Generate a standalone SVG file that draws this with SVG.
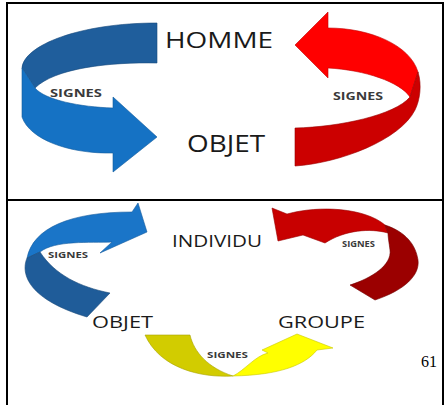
<svg xmlns="http://www.w3.org/2000/svg" width="447" height="405" viewBox="0 0 447 405">
<style>
.lbl{font-family:"Open Sans","Liberation Sans",sans-serif;fill:#1a1a1a;}
.sg{font-family:"Open Sans","Liberation Sans",sans-serif;font-weight:bold;fill:#3a3a3a;}
.frame{fill:none;stroke:#000;stroke-width:2;}
.edge{stroke-width:0.6;stroke-linejoin:round;}
</style>
<rect width="447" height="405" fill="#fff"/>
<path class="frame" d="M7,406 V3 H443 V406 M7,200 H443"/>
<g id="connectors">
  <g id="arrow-top-left">
    <path class="edge" fill="#1f5e9c" stroke="#174a7c" d="M157,23 L157,63 C110,62 55,68 35,88 L22,68 C24,45 80,23 157,23 Z"/>
    <path class="edge" fill="#1572c4" stroke="#115a9c" d="M22,68 L35,88 C45,100 80,107 113,108 L113,97 L157,137 L113,172 L113,153 C70,154 30,140 22,117 Z"/>
    <text class="sg" x="50" y="97" font-size="10.5" textLength="52" lengthAdjust="spacingAndGlyphs">SIGNES</text>
  </g>
  <g id="arrow-top-right">
    <path class="edge" fill="#ff0000" stroke="#c00000" d="M295,45 L328,12 L328,28 C370,28 410,45 418,72 L410,97 C400,82 365,70 328,68 L328,78 Z"/>
    <path class="edge" fill="#cc0000" stroke="#990000" d="M418,72 C422,85 420,100 415,110 C400,140 340,163 295,166 L295,128 C340,127 395,115 410,97 Z"/>
    <text class="sg" x="333" y="100" font-size="10.5" textLength="50" lengthAdjust="spacingAndGlyphs">SIGNES</text>
  </g>
  <g id="arrow-bottom-left">
    <path class="edge" fill="#1a75c8" stroke="#155d9e" d="M27,258 C33,228 70,212 132,212 L138,203 L147,232 L100,253 L112,242 C90,243 55,240 40,252 Z"/>
    <path class="edge" fill="#1f5c99" stroke="#174878" d="M27,258 C20,275 30,300 87,317 L110,293 C80,287 55,275 40,252 Z"/>
    <text class="sg" x="48" y="258" font-size="9" textLength="40" lengthAdjust="spacingAndGlyphs">SIGNES</text>
  </g>
  <g id="arrow-bottom-right">
    <path class="edge" fill="#c80000" stroke="#990000" d="M272,208 L287,214 C320,205 365,208 385,225 L388,233 C370,228 345,230 325,243 L303,235 L278,241 Z"/>
    <path class="edge" fill="#9b0000" stroke="#700000" d="M385,225 C400,230 415,240 418,260 C420,275 405,290 375,300 L350,285 C372,278 392,265 390,250 C389,242 388,237 388,233 Z"/>
    <text class="sg" x="342" y="247" font-size="8.5" textLength="33" lengthAdjust="spacingAndGlyphs">SIGNES</text>
  </g>
  <g id="arrow-bottom">
    <path class="edge" fill="#d2cc00" stroke="#a8a300" d="M145,335 L190,335 C194,352 208,368 233,376 C200,378 160,368 145,335 Z"/>
    <path class="edge" fill="#ffff00" stroke="#c8c800" d="M233,376 C245,370 255,356 268,353 L262,350 L297,334 L333,348 L317,350 C305,365 280,375 233,376 Z"/>
    <text class="sg" x="207" y="358" font-size="9" textLength="41" lengthAdjust="spacingAndGlyphs">SIGNES</text>
  </g>
</g>
<g id="node-homme"><text class="lbl" x="165" y="48" font-size="21" textLength="108" lengthAdjust="spacingAndGlyphs">HOMME</text></g>
<g id="node-objet-top"><text class="lbl" x="187" y="152" font-size="23" textLength="78" lengthAdjust="spacingAndGlyphs">OBJET</text></g>
<g id="node-individu"><text class="lbl" x="172" y="247" font-size="15.5" textLength="90" lengthAdjust="spacingAndGlyphs">INDIVIDU</text></g>
<g id="node-objet-bottom"><text class="lbl" x="92" y="328" font-size="16" textLength="61" lengthAdjust="spacingAndGlyphs">OBJET</text></g>
<g id="node-groupe"><text class="lbl" x="278" y="328" font-size="16" textLength="87" lengthAdjust="spacingAndGlyphs">GROUPE</text></g>
<g id="page-number"><text x="421" y="367" font-family="'Liberation Serif',serif" font-size="16" fill="#000">61</text></g>
</svg>
